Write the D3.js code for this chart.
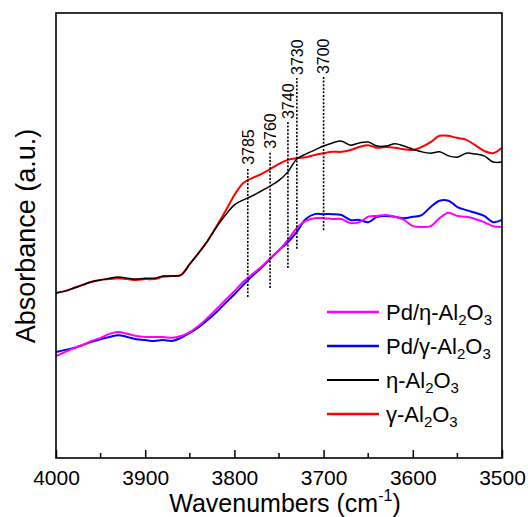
<!DOCTYPE html>
<html>
<head>
<meta charset="utf-8">
<script src="https://cdn.jsdelivr.net/npm/d3@7"></script>
<style>
  body { margin: 0; background: #fff; }
  svg { display: block; font-family: "Liberation Sans", Arial, sans-serif; }
</style>
</head>
<body>
<div id="chart"></div>
<script>
// wavenumber grid (cm-1), shared by all spectra
const wavenumbers = d3.range(4000, 3499, -10);

// absorbance, arbitrary units
const gammaAl2O3 = [0.371,0.375,0.382,0.389,0.396,0.400,0.402,0.404,0.402,0.400,0.402,0.402,0.407,0.409,0.411,0.436,0.461,0.488,0.521,0.555,0.591,0.618,0.629,0.638,0.649,0.661,0.670,0.674,0.676,0.681,0.685,0.688,0.688,0.692,0.699,0.703,0.697,0.699,0.697,0.694,0.692,0.699,0.710,0.724,0.724,0.719,0.715,0.703,0.690,0.685,0.697];
const etaAl2O3 = [0.371,0.375,0.382,0.389,0.396,0.400,0.404,0.407,0.404,0.402,0.404,0.404,0.409,0.409,0.411,0.436,0.461,0.488,0.519,0.546,0.569,0.580,0.589,0.600,0.611,0.624,0.643,0.672,0.683,0.692,0.701,0.708,0.712,0.703,0.708,0.710,0.701,0.701,0.706,0.701,0.694,0.688,0.685,0.688,0.679,0.676,0.685,0.683,0.679,0.665,0.665];
const pdGamma = [0.238,0.243,0.247,0.254,0.261,0.267,0.272,0.276,0.272,0.267,0.265,0.263,0.265,0.263,0.270,0.281,0.294,0.310,0.328,0.348,0.368,0.389,0.409,0.427,0.447,0.467,0.485,0.508,0.537,0.548,0.548,0.548,0.546,0.535,0.535,0.530,0.542,0.544,0.542,0.539,0.542,0.546,0.564,0.578,0.578,0.564,0.557,0.551,0.544,0.530,0.535];
const pdEta = [0.229,0.238,0.247,0.254,0.263,0.270,0.279,0.283,0.279,0.274,0.272,0.272,0.272,0.270,0.274,0.283,0.297,0.315,0.335,0.355,0.375,0.396,0.413,0.429,0.449,0.467,0.490,0.517,0.533,0.539,0.539,0.537,0.537,0.528,0.530,0.542,0.544,0.546,0.542,0.535,0.521,0.519,0.521,0.539,0.551,0.544,0.542,0.537,0.530,0.521,0.519];

// marked hydroxyl bands: position, dotted line bottom and top (a.u.)
const bandWn = [3785, 3760, 3740, 3730, 3700];
const bandLow = [0.362, 0.382, 0.427, 0.470, 0.512];
const bandHigh = [0.652, 0.688, 0.755, 0.854, 0.856];

const xTicks = [4000, 3900, 3800, 3700, 3600, 3500];

// legend order as in the figure
const series = [
  {name: ['Pd/η-Al', '2', 'O', '3'], values: pdEta, color: '#ff00ff', width: 2},
  {name: ['Pd/γ-Al', '2', 'O', '3'], values: pdGamma, color: '#0000ff', width: 2},
  {name: ['η-Al', '2', 'O', '3'], values: etaAl2O3, color: '#000000', width: 1.5},
  {name: ['γ-Al', '2', 'O', '3'], values: gammaAl2O3, color: '#ff0000', width: 2}
];

const W = 528, H = 517;
const margin = {top: 13, right: 26, bottom: 59, left: 56};
const w = W - margin.left - margin.right;
const h = H - margin.top - margin.bottom;

const svg = d3.select('#chart').append('svg')
  .attr('width', W)
  .attr('height', H);

const g = svg.append('g')
  .attr('transform', `translate(${margin.left},${margin.top})`);

const x = d3.scaleLinear().domain([4000, 3500]).range([0, w]);
const y = d3.scaleLinear().domain([0, 1]).range([h, 0]);

// spectra, drawn so the black and magenta lines sit on top
const line = d3.line()
  .x((d, i) => x(wavenumbers[i]))
  .y(d => y(d))
  .curve(d3.curveCatmullRom.alpha(0.5));

[3, 2, 1, 0].forEach(k => {
  const s = series[k];
  g.append('path')
    .datum(s.values)
    .attr('fill', 'none')
    .attr('stroke', s.color)
    .attr('stroke-width', s.width)
    .attr('stroke-linejoin', 'round')
    .attr('d', line);
});

// dotted band markers with labels
const bands = g.selectAll('.band')
  .data(bandWn)
  .enter()
  .append('g')
  .attr('class', 'band');

bands.append('line')
  .attr('x1', d => x(d))
  .attr('x2', d => x(d))
  .attr('y1', (d, i) => y(bandLow[i]))
  .attr('y2', (d, i) => y(bandHigh[i]))
  .attr('stroke', '#000')
  .attr('stroke-width', 1.6)
  .attr('stroke-dasharray', '2,1.6');

bands.append('text')
  .attr('transform', (d, i) => `translate(${x(d)},${y(bandHigh[i]) - 3}) rotate(-90)`)
  .attr('dy', '0.36em')
  .attr('font-size', 16)
  .attr('fill', '#000')
  .text(d => d);

// bottom axis, ticks pointing inward
const xAxis = d3.axisBottom(x)
  .tickValues(xTicks)
  .tickSizeInner(-8)
  .tickSizeOuter(0)
  .tickPadding(12)
  .tickFormat(d3.format('d'));

const ax = g.append('g')
  .attr('transform', `translate(0,${h})`)
  .call(xAxis);
ax.select('.domain').remove();
ax.selectAll('.tick line').attr('stroke', '#000').attr('stroke-width', 1.5);
ax.selectAll('.tick text')
  .attr('font-size', 21)
  .attr('font-family', '"Liberation Sans", Arial, sans-serif')
  .attr('fill', '#000');

// minor ticks
g.append('g')
  .selectAll('line')
  .data(d3.range(3950, 3500, -100))
  .enter()
  .append('line')
  .attr('x1', d => x(d))
  .attr('x2', d => x(d))
  .attr('y1', h)
  .attr('y2', h - 5)
  .attr('stroke', '#000')
  .attr('stroke-width', 1.5);

// frame
g.append('rect')
  .attr('width', w)
  .attr('height', h)
  .attr('fill', 'none')
  .attr('stroke', '#000')
  .attr('stroke-width', 1.6);

// axis titles
const xt = svg.append('text')
  .attr('x', margin.left + w / 2 + 6)
  .attr('y', 512)
  .attr('text-anchor', 'middle')
  .attr('font-size', 25)
  .attr('fill', '#000');
xt.append('tspan').text('Wavenumbers (cm');
xt.append('tspan').attr('font-size', 16).attr('dy', -11).text('-1');
xt.append('tspan').attr('dy', 11).text(')');

svg.append('text')
  .attr('transform', `translate(35,236) rotate(-90)`)
  .attr('text-anchor', 'middle')
  .attr('font-size', 27)
  .attr('fill', '#000')
  .text('Absorbance (a.u.)');

// legend
const legend = g.append('g')
  .attr('transform', `translate(${327 - margin.left},${312 - margin.top})`);

const item = legend.selectAll('g')
  .data(series)
  .enter()
  .append('g')
  .attr('transform', (d, i) => `translate(0,${i * 34})`);

item.append('line')
  .attr('x1', 0)
  .attr('x2', 52)
  .attr('stroke', d => d.color)
  .attr('stroke-width', d => d.width + 0.5);

const label = item.append('text')
  .attr('x', 59)
  .attr('y', 8)
  .attr('font-size', 22)
  .attr('fill', '#000');
label.append('tspan').text(d => d.name[0]);
label.append('tspan').attr('font-size', 15).attr('dy', 5).text(d => d.name[1]);
label.append('tspan').attr('dy', -5).text(d => d.name[2]);
label.append('tspan').attr('font-size', 15).attr('dy', 5).text(d => d.name[3]);
</script>
</body>
</html>
